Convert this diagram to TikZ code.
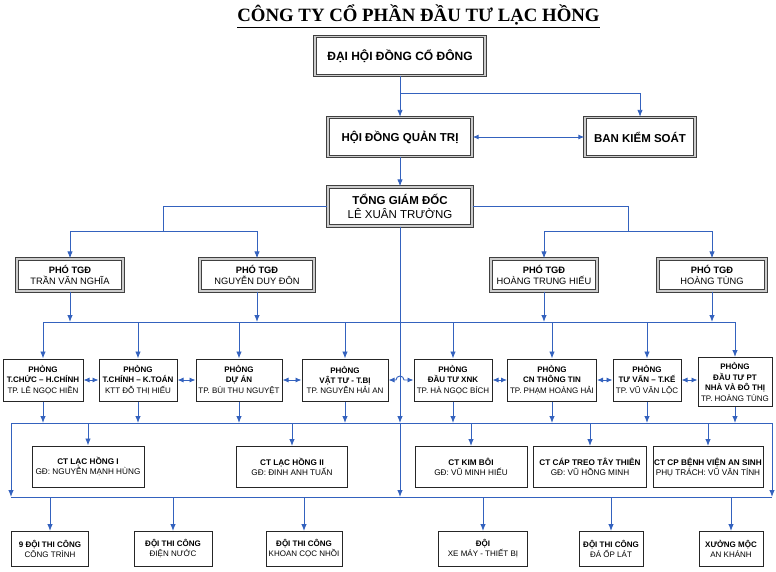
\documentclass[tikz,border=0pt]{standalone}
\usepackage{fontspec}
\setmainfont{Liberation Sans}
\newfontfamily\titlefont{Liberation Serif}
\usetikzlibrary{arrows.meta}
\definecolor{linkblue}{RGB}{52,98,190}

\begin{document}
\begin{tikzpicture}[x=1pt,y=-1pt]
\tikzstyle{box}=[rectangle,draw=black!85,fill=white,align=center,inner sep=1pt]
\tikzstyle{topbox}=[box,draw=black!75,line width=1.3pt,double=black!20,double distance=1.3pt,minimum height=39pt,font=\fontsize{11.5}{14}\selectfont]
\tikzstyle{phobox}=[topbox,minimum height=32pt,font=\fontsize{9.3}{11.5}\selectfont]
\tikzstyle{deptbox}=[box,line width=1pt,minimum height=42pt,font=\fontsize{8}{10.4}\selectfont]
\tikzstyle{ctbox}=[box,line width=1pt,minimum height=41pt,font=\fontsize{8.2}{10}\selectfont]
\tikzstyle{teambox}=[box,line width=1pt,minimum height=35pt,font=\fontsize{8}{10}\selectfont]
\tikzstyle{link}=[draw=linkblue,line width=0.9pt]
\tikzstyle{arr}=[link,-{Latex[length=7pt,width=5.5pt]}]
\tikzstyle{biarr}=[link,{Latex[length=6pt,width=5pt]}-{Latex[length=6pt,width=5pt]}]
\useasboundingbox (0,0) rectangle (776,572);

\node[anchor=base,font={\titlefont\bfseries\fontsize{18.8}{22}\selectfont}] (title) at (418.5,22) {\underline{CÔNG TY CỔ PHẦN ĐẦU TƯ LẠC HỒNG}};

\node[topbox,minimum width=170pt,font=\fontsize{12}{14}\selectfont] (dhd) at (400,56) {\textbf{ĐẠI HỘI ĐỒNG CỔ ĐÔNG}};
\node[topbox,minimum width=144pt] (hdqt) at (400,137) {\textbf{HỘI ĐỒNG QUẢN TRỊ}};
\node[topbox,minimum width=110pt] (bks) at (640,137) {\textbf{BAN KIỂM SOÁT}};
\node[topbox,minimum width=144pt] (tgd) at (400,206.5) {\textbf{TỔNG GIÁM ĐỐC}\\LÊ XUÂN TRƯỜNG};

\node[phobox,minimum width=106pt] (pho1) at (70,275) {\textbf{PHÓ TGĐ}\\TRẦN VĂN NGHĨA};
\node[phobox,minimum width=114pt] (pho2) at (257,275) {\textbf{PHÓ TGĐ}\\NGUYỄN DUY ĐÔN};
\node[phobox,minimum width=106pt] (pho3) at (544,275) {\textbf{PHÓ TGĐ}\\HOÀNG TRUNG HIẾU};
\node[phobox,minimum width=108pt] (pho4) at (712,275) {\textbf{PHÓ TGĐ}\\HOÀNG TÙNG};

\node[deptbox,minimum width=80pt] (d1) at (43,380) {\textbf{PHÒNG}\\\textbf{T.CHỨC – H.CHÍNH}\\TP. LÊ NGỌC HIỀN};
\node[deptbox,minimum width=78pt] (d2) at (138,380) {\textbf{PHÒNG}\\\textbf{T.CHÍNH – K.TOÁN}\\KTT ĐỖ THỊ HIẾU};
\node[deptbox,minimum width=86pt] (d3) at (239,380) {\textbf{PHÒNG}\\\textbf{DỰ ÁN}\\TP. BÙI THU NGUYỆT};
\node[deptbox,minimum width=86pt] (d4) at (345,380) {\textbf{PHÒNG}\\\textbf{VẬT TƯ - T.BỊ}\\TP. NGUYỄN HẢI AN};
\node[deptbox,minimum width=78pt] (d5) at (453,380) {\textbf{PHÒNG}\\\textbf{ĐẦU TƯ XNK}\\TP. HÀ NGỌC BÍCH};
\node[deptbox,minimum width=89pt] (d6) at (552,380) {\textbf{PHÒNG}\\\textbf{CN THÔNG TIN}\\TP. PHẠM HOÀNG HẢI};
\node[deptbox,minimum width=68pt] (d7) at (647,380) {\textbf{PHÒNG}\\\textbf{TƯ VẤN – T.KẾ}\\TP. VŨ VĂN LỘC};
\node[deptbox,minimum width=74pt,minimum height=49pt] (d8) at (735,382) {\textbf{PHÒNG}\\\textbf{ĐẦU TƯ PT}\\\textbf{NHÀ VÀ ĐÔ THỊ}\\TP. HOÀNG TÙNG};

\node[ctbox,minimum width=112pt] (c1) at (88,466.5) {\textbf{CT LẠC HỒNG I}\\GĐ: NGUYỄN MẠNH HÙNG};
\node[ctbox,minimum width=111pt] (c2) at (292,467) {\textbf{CT LẠC HỒNG II}\\GĐ: ĐINH ANH TUẤN};
\node[ctbox,minimum width=112pt] (c3) at (471,467) {\textbf{CT KIM BÔI}\\GĐ: VŨ MINH HIẾU};
\node[ctbox,minimum width=113pt] (c4) at (590,467) {\textbf{CT CÁP TREO TÂY THIÊN}\\GĐ: VŨ HỒNG MINH};
\node[ctbox,minimum width=110pt] (c5) at (708,467) {\textbf{CT CP BỆNH VIỆN AN SINH}\\PHỤ TRÁCH: VŨ VĂN TÍNH};

\node[teambox,minimum width=77pt] (b1) at (50,549) {\textbf{9 ĐỘI THI CÔNG}\\CÔNG TRÌNH};
\node[teambox,minimum width=78pt] (b2) at (173,549) {\textbf{ĐỘI THI CÔNG}\\ĐIỆN NƯỚC};
\node[teambox,minimum width=76pt] (b3) at (304,549) {\textbf{ĐỘI THI CÔNG}\\KHOAN CỌC NHỒI};
\node[teambox,minimum width=89pt] (b4) at (483,549) {\textbf{ĐỘI}\\XE MÁY - THIẾT BỊ};
\node[teambox,minimum width=64pt] (b5) at (611,549) {\textbf{ĐỘI THI CÔNG}\\ĐÁ ỐP LÁT};
\node[teambox,minimum width=64pt] (b6) at (731,549) {\textbf{XƯỞNG MỘC}\\AN KHÁNH};

\coordinate (j1) at (400,93);
\coordinate (jl) at (163,231);
\coordinate (jr) at (628,231);
\coordinate (bus1) at (0,322);
\coordinate (bus2) at (0,423);
\coordinate (bus3) at (0,497);
\coordinate (bl2) at (11,423);
\coordinate (br2) at (772,423);
\coordinate (bl3) at (11,497);
\coordinate (br3) at (772,497);

\draw[arr] (dhd) -- (hdqt);
\draw[arr] (j1) -| (bks.north);
\draw[biarr] (hdqt) -- (bks);
\draw[arr] (hdqt) -- (tgd);
\draw[link] (tgd.west) -| (jl);
\draw[link] (tgd.east) -| (jr);
\draw[arr] (jl) -| (pho1.north);
\draw[arr] (jl) -| (pho2.north);
\draw[arr] (jr) -| (pho3.north);
\draw[arr] (jr) -| (pho4.north);

\foreach \p in {pho1,pho2,pho3,pho4} \draw[arr] (\p.south) -- (\p.south |- bus1);
\draw[link] (d1.north |- bus1) -- (d8.north |- bus1);
\foreach \i in {1,...,8} \draw[arr] (d\i.north |- bus1) -- (d\i.north);
\foreach \i/\j in {1/2,2/3,3/4,5/6,6/7,7/8} \draw[biarr] (d\i.east) -- (d\i.east -| d\j.west);
\draw[biarr] (d4.east) -- ([xshift=-4pt]d4.east -| tgd.south) arc[start angle=180,end angle=0,radius=4pt] -- (d4.east -| d5.west);

\foreach \i in {1,...,8} \draw[arr] (d\i.south) -- (d\i.south |- bus2);
\draw[arr] (tgd.south) -- (tgd.south |- bus2);
\draw[arr] (tgd.south |- bus2) -- (tgd.south |- bus3);
\draw[link] (bl2) -- (br2);
\draw[arr] (bl2) -- (bl3);
\draw[arr] (br2) -- (br3);
\foreach \i in {1,...,5} \draw[arr] (c\i.north |- bus2) -- (c\i.north);
\draw[link] (bl3) -- (br3);
\foreach \i in {1,...,6} \draw[arr] (b\i.north |- bus3) -- (b\i.north);
\end{tikzpicture}
\end{document}
